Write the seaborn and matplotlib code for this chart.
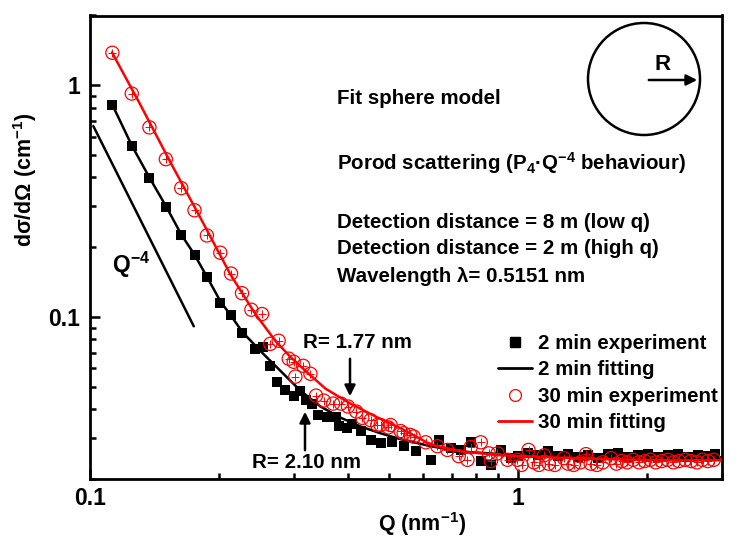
import numpy as np
import pandas as pd
import matplotlib
matplotlib.use("Agg")
import matplotlib.pyplot as plt
import seaborn as sns
from matplotlib.lines import Line2D
from matplotlib.patches import Ellipse
from matplotlib.ticker import LogLocator, NullFormatter, FixedLocator, FixedFormatter

# ---------------- data ----------------
q_black = [0.1124, 0.1252, 0.1377, 0.1507, 0.1634, 0.1755, 0.1876, 0.2016, 0.2136, 0.2266,
           0.2435, 0.2542, 0.2639, 0.2736, 0.2861, 0.2993, 0.3090, 0.3200, 0.3305, 0.3420,
           0.3584, 0.3748, 0.3809, 0.3992, 0.4101, 0.4289, 0.4526, 0.4777, 0.5089, 0.5408,
           0.5768, 0.6256, 0.6531, 0.6967, 0.7356, 0.7763, 0.8192, 0.8648, 0.9125, 0.9630,
           1.000, 1.055, 1.114, 1.176, 1.241, 1.309, 1.382, 1.459, 1.539, 1.625,
           1.715, 1.810, 1.910, 2.016, 2.128, 2.245, 2.370, 2.501, 2.639, 2.786, 2.893]
i_black = [0.826, 0.547, 0.398, 0.2985, 0.227, 0.186, 0.149, 0.115, 0.102, 0.085,
           0.0729, 0.0745, 0.0614, 0.0526, 0.0483, 0.0457, 0.0478, 0.0440, 0.0423, 0.0377,
           0.0372, 0.0372, 0.0337, 0.0331, 0.0347, 0.0321, 0.0294, 0.0285, 0.0290, 0.0277,
           0.0263, 0.0242, 0.0294, 0.0271, 0.0266, 0.0288, 0.0239, 0.0230, 0.0266, 0.0246,
           0.0251, 0.0258, 0.0253, 0.0263, 0.0251, 0.0256, 0.0248, 0.0253, 0.0246, 0.0256,
           0.0258, 0.0248, 0.0253, 0.0256, 0.0248, 0.0253, 0.0256, 0.0248, 0.0253, 0.0251, 0.0256]

q_red = [0.1128, 0.1252, 0.1377, 0.1504, 0.1634, 0.1755, 0.1876, 0.2016, 0.2136, 0.2266,
         0.2383, 0.2524, 0.2639, 0.2760, 0.2914, 0.2993, 0.3020, 0.3150, 0.3275, 0.3375,
         0.3520, 0.3700, 0.3860, 0.4010, 0.4190, 0.4330, 0.4526, 0.4692, 0.4777, 0.4980,
         0.5042, 0.5321, 0.5408, 0.5604, 0.5706, 0.6088, 0.6485, 0.6844, 0.7275, 0.7626,
         0.7763, 0.8192, 0.8555, 0.8648, 0.8962, 0.9460, 0.998, 1.02, 1.059, 1.09,
         1.12, 1.151, 1.18, 1.22, 1.281, 1.31, 1.35, 1.40, 1.443, 1.48,
         1.53, 1.58, 1.651, 1.70, 1.75, 1.80, 1.86, 1.92, 1.98, 2.04,
         2.10, 2.17, 2.24, 2.31, 2.38, 2.46, 2.54, 2.62, 2.70, 2.78, 2.87]
i_red = [1.381, 0.921, 0.658, 0.480, 0.360, 0.2888, 0.2249, 0.1895, 0.154, 0.1267,
         0.1075, 0.103, 0.0766, 0.0790, 0.0661, 0.0641, 0.0553, 0.0616, 0.0569, 0.0458,
         0.0436, 0.0423, 0.0423, 0.0411, 0.0391, 0.0367, 0.0359, 0.0342, 0.0342, 0.0334,
         0.0342, 0.0322, 0.0315, 0.0310, 0.0305, 0.0288, 0.0277, 0.0267, 0.0251, 0.0242,
         0.0275, 0.0288, 0.0258, 0.0239, 0.0258, 0.0242, 0.0242, 0.0230, 0.0267, 0.0236,
         0.0230, 0.0253, 0.0233, 0.0230, 0.0246, 0.0233, 0.0230, 0.0236, 0.0256, 0.0233,
         0.0230, 0.0236, 0.0246, 0.0233, 0.0239, 0.0236, 0.0242, 0.0236, 0.0239, 0.0242,
         0.0236, 0.0239, 0.0242, 0.0236, 0.0239, 0.0242, 0.0239, 0.0236, 0.0242, 0.0239, 0.0242]

q_fit2 = [0.1126, 0.1254, 0.1382, 0.1507, 0.1634, 0.1753, 0.1879, 0.2016, 0.2138, 0.2270,
          0.2501, 0.2786, 0.3103, 0.3457, 0.3850, 0.4289, 0.4777, 0.5321, 0.6256, 0.7356,
          0.9125, 1.195, 1.742, 2.988]
i_fit2 = [0.829, 0.547, 0.395, 0.2996, 0.227, 0.1864, 0.1485, 0.1171, 0.1010, 0.0862,
          0.0714, 0.0586, 0.0481, 0.0411, 0.0368, 0.0337, 0.0315, 0.0297, 0.0277, 0.0263,
          0.0256, 0.0251, 0.0248, 0.0248]

q_fit30 = [0.1126, 0.1309, 0.1540, 0.1810, 0.2128, 0.2435, 0.2712, 0.2940, 0.3187, 0.3550,
           0.4063, 0.4650, 0.5321, 0.6256, 0.7356, 0.9125, 1.195, 1.564, 2.162, 2.988]
i_fit30 = [1.386, 0.829, 0.467, 0.2687, 0.1529, 0.1030, 0.0789, 0.0673, 0.0586, 0.0491,
           0.0423, 0.0372, 0.0331, 0.0282, 0.0263, 0.0253, 0.0248, 0.0244, 0.0241, 0.0241]

q_porod = [0.1018, 0.1748]
i_porod = [0.667, 0.0912]

x_ticks = [0.1, 1]
x_tick_labels = ["0.1", "1"]
y_ticks = [0.1, 1]
y_tick_labels = ["0.1", "1"]
legend_labels = ["2 min experiment", "2 min fitting", "30 min experiment", "30 min fitting"]

# ---------------- style ----------------
sns.set_style("ticks")
plt.rcParams["font.family"] = ["Liberation Sans", "DejaVu Sans"]
plt.rcParams["font.weight"] = "bold"
plt.rcParams["mathtext.fontset"] = "custom"
plt.rcParams["mathtext.rm"] = "Liberation Sans:bold"
plt.rcParams["mathtext.bf"] = "Liberation Sans:bold"
plt.rcParams["mathtext.default"] = "bf"
for k in ["text.color", "axes.labelcolor", "xtick.color", "ytick.color", "axes.edgecolor"]:
    plt.rcParams[k] = "black"

W, H = 739, 541
fig = plt.figure(figsize=(W / 100, H / 100), dpi=100)
L, R_, T, B = 90, 722, 15.5, 479
ax = fig.add_axes([L / W, 1 - B / H, (R_ - L) / W, (B - T) / H])


def fx(px):
    return (px - L) / (R_ - L)


def fy(py):
    return (B - py) / (B - T)


df_b = pd.DataFrame({"Q": q_black, "I": i_black})
df_r = pd.DataFrame({"Q": q_red, "I": i_red})
df_f2 = pd.DataFrame({"Q": q_fit2, "I": i_fit2})
df_f30 = pd.DataFrame({"Q": q_fit30, "I": i_fit30})
df_p = pd.DataFrame({"Q": q_porod, "I": i_porod})

sns.scatterplot(data=df_b, x="Q", y="I", marker="s", s=62, color="black",
                edgecolor="black", linewidth=0, ax=ax, zorder=2, legend=False)
sns.lineplot(data=df_f2, x="Q", y="I", color="black", lw=1.8, sort=False,
             ax=ax, zorder=3, legend=False)
sns.scatterplot(data=df_r, x="Q", y="I", marker="o", s=90, color="none",
                edgecolor="red", linewidth=0.9, ax=ax, zorder=4, legend=False)
sns.scatterplot(data=df_r, x="Q", y="I", marker="+", s=32, color="red",
                linewidth=0.7, ax=ax, zorder=4, legend=False)
sns.lineplot(data=df_f30, x="Q", y="I", color="red", lw=1.8, sort=False,
             ax=ax, zorder=5, legend=False)
sns.lineplot(data=df_p, x="Q", y="I", color="black", lw=1.8, sort=False,
             ax=ax, zorder=3, legend=False)

ax.set_xscale("log")
ax.set_yscale("log")
ax.set_xlim(0.1, 3.0)
ax.set_ylim(0.02, 2.0)

ax.xaxis.set_major_locator(FixedLocator(x_ticks))
ax.xaxis.set_major_formatter(FixedFormatter(x_tick_labels))
ax.yaxis.set_major_locator(FixedLocator(y_ticks))
ax.yaxis.set_major_formatter(FixedFormatter(y_tick_labels))
ax.xaxis.set_minor_locator(LogLocator(base=10, subs=np.arange(2, 10)))
ax.yaxis.set_minor_locator(LogLocator(base=10, subs=np.arange(2, 10)))
ax.xaxis.set_minor_formatter(NullFormatter())
ax.yaxis.set_minor_formatter(NullFormatter())

ax.tick_params(which="both", direction="in", top=False, right=False, width=1.8,
               labelsize=16.5, colors="black")
ax.tick_params(which="major", length=7)
ax.tick_params(axis="x", which="major", pad=6)
ax.tick_params(axis="y", which="major", pad=7)
ax.tick_params(which="minor", length=4)
for sp in ax.spines.values():
    sp.set_linewidth(2)
    sp.set_color("black")

ax.set_xlabel("Q (nm$^{-1}$)", fontsize=15.5, fontweight="bold")
ax.set_ylabel("dσ/dΩ (cm$^{-1}$)", fontsize=15.5, fontweight="bold")
ax.xaxis.set_label_coords(fx(422), fy(510))
ax.yaxis.set_label_coords(fx(39), fy(180))

# legend
handles = [
    Line2D([], [], marker="s", color="black", ls="none", markersize=7),
    Line2D([], [], color="black", lw=2),
    Line2D([], [], marker="o", mfc="none", mec="red", ls="none", markersize=8.5, mew=0.9),
    Line2D([], [], color="red", lw=2),
]
ax.legend(handles, legend_labels, loc="upper left", bbox_to_anchor=(fx(498), fy(334)),
          frameon=False, fontsize=14.8, handlelength=1.65, handletextpad=0.3,
          labelspacing=0.36, borderpad=0, borderaxespad=0)

# annotations
tkw = dict(transform=ax.transAxes, fontsize=14.8, fontweight="bold", color="black",
           ha="left", va="center")
ax.text(fx(336.7), fy(99), "Fit sphere model", **tkw)
ax.text(fx(336.7), fy(163), "Porod scattering (P$_4$·Q$^{-4}$ behaviour)", **tkw)
ax.text(fx(336.7), fy(222), "Detection distance = 8 m (low q)", **tkw)
ax.text(fx(336.7), fy(248), "Detection distance = 2 m (high q)", **tkw)
ax.text(fx(336.7), fy(276), "Wavelength λ= 0.5151 nm", **tkw)
ax.text(fx(112), fy(273), "Q$^{-4}$", transform=ax.transAxes, fontsize=16.5,
        fontweight="bold", ha="left", va="baseline")
ax.text(fx(303), fy(342), "R= 1.77 nm", **tkw)
ax.text(fx(252), fy(463), "R= 2.10 nm", **tkw)

akw = dict(arrowstyle="-|>", color="black", lw=1.8, mutation_scale=16)
ax.annotate("", xy=(fx(350), fy(399)), xytext=(fx(350), fy(356)),
            xycoords="axes fraction", textcoords="axes fraction", arrowprops=akw)
ax.annotate("", xy=(fx(305), fy(409)), xytext=(fx(305), fy(453)),
            xycoords="axes fraction", textcoords="axes fraction", arrowprops=akw)

# sphere sketch
rad = 56
ax.add_patch(Ellipse((fx(644), fy(79)), 2 * rad / (R_ - L), 2 * rad / (B - T),
                     transform=ax.transAxes, fill=False, lw=1.8, ec="black", clip_on=False))
ax.annotate("", xy=(fx(700), fy(80)), xytext=(fx(646), fy(80)),
            xycoords="axes fraction", textcoords="axes fraction", arrowprops=akw)
ax.text(fx(663), fy(64), "R", transform=ax.transAxes, fontsize=16, fontweight="bold",
        ha="center", va="center")

fig.savefig("out.png", dpi=100)
